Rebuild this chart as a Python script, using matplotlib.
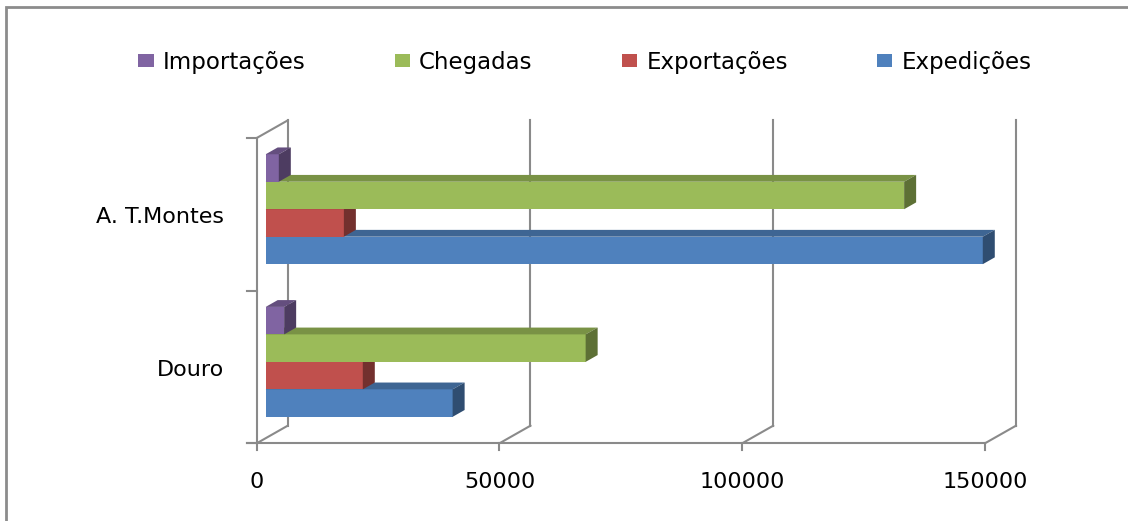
import matplotlib
matplotlib.use('Agg')
from matplotlib import pyplot as plt
from matplotlib.patches import Polygon, Rectangle, Patch
from matplotlib.colors import to_rgb

# dados
categorias = ['Douro', 'A. T.Montes']
series = ['Expedições', 'Exportações', 'Chegadas', 'Importações']
expedicoes = [38500, 147700]
exportacoes = [20000, 16100]
chegadas = [65900, 131500]
importacoes = [3800, 2700]
cores = ['#4F81BD', '#C0504D', '#9BBB59', '#8064A2']
ticks_x = [0, 50000, 100000, 150000]

valores = [expedicoes, exportacoes, chegadas, importacoes]

# escala (pixels por unidade) para imitar o gráfico 3D do Excel
px_x = 0.004855
px_y = 152.65
DX = 31 / px_x          # profundidade total em x
DY = 17.6 / px_y        # profundidade total em y
f_ini = 9 / 31.0        # face da frente das barras
f_prof = 12 / 31.0      # profundidade da barra
alt = 0.18              # altura da barra
cinza = '#8a8a8a'

plt.rcParams['font.family'] = ['DejaVu Sans']

fig = plt.figure(figsize=(11.28, 5.21), dpi=100)
ax = fig.add_axes([0, 0, 1, 1])
ax.set_xlim(-256.7 / px_x, (1128 - 256.7) / px_x)
ax.set_ylim(-0.5 - (521 - 443.3) / px_y, 1.5 + 138 / px_y)
ax.axis('off')


def escurece(cor, k):
    r, g, b = to_rgb(cor)
    return (r * k, g * k, b * k)


# parede do fundo e chão
for v in ticks_x:
    ax.plot([v + DX, v + DX], [-0.5 + DY, 1.5 + DY], color=cinza, lw=1.5, zorder=1)
    ax.plot([v, v + DX], [-0.5, -0.5 + DY], color=cinza, lw=1.5, zorder=1)
    ax.plot([v, v], [-0.5, -0.5 - 7 / px_y], color=cinza, lw=1.5, zorder=1)
    ax.annotate(str(v), xy=(v, -0.5), xytext=(0, -28), textcoords='offset points',
                ha='center', va='center', fontsize=16, color='black')

ax.plot([0, DX], [1.5, 1.5 + DY], color=cinza, lw=1.5, zorder=1)
ax.plot([0, 0], [-0.5, 1.5], color=cinza, lw=1.5, zorder=1)
ax.plot([-10 / px_x, ticks_x[-1]], [-0.5, -0.5], color=cinza, lw=1.5, zorder=1)
for yc in [-0.5, 0.5, 1.5]:
    ax.plot([-10 / px_x, 0], [yc, yc], color=cinza, lw=1.5, zorder=1)

for c, nome in enumerate(categorias):
    ax.annotate(nome, xy=(0, c), xytext=(-23.5, -2), textcoords='offset points',
                ha='right', va='center', fontsize=16, color='black')

# barras 3D
esq = f_ini * DX
dy0 = f_ini * DY
z = 2
for c in range(len(categorias)):
    for i, vals in enumerate(valores):
        w = vals[c]
        yc = c - 0.27 + i * alt + dy0
        base = yc - alt / 2
        topo = yc + alt / 2
        ddx = f_prof * DX
        ddy = f_prof * DY
        cor = cores[i]
        ax.barh(yc, w, left=esq, height=alt, color=cor, zorder=z)
        ax.add_patch(Polygon([(esq, topo), (esq + ddx, topo + ddy),
                              (esq + w + ddx, topo + ddy), (esq + w, topo)],
                             closed=True, facecolor=escurece(cor, 0.78),
                             edgecolor='none', zorder=z))
        ax.add_patch(Polygon([(esq + w, base), (esq + w + ddx, base + ddy),
                              (esq + w + ddx, topo + ddy), (esq + w, topo)],
                             closed=True, facecolor=escurece(cor, 0.6),
                             edgecolor='none', zorder=z))
        z += 1

# legenda
ordem = [3, 2, 1, 0]
handles = [Patch(facecolor=cores[k], edgecolor='none') for k in ordem]
labels = [series[k] for k in ordem]
fig.legend(handles, labels, loc='center', bbox_to_anchor=(585 / 1128, 1 - 62 / 521),
           ncol=4, frameon=False, fontsize=16.5, handlelength=0.66, handleheight=0.52,
           handletextpad=0.4, columnspacing=3.9)

# moldura
fig.patches.append(Rectangle((6 / 1128, -0.2), 1.2, 1.2 - 7 / 521,
                             transform=fig.transFigure, fill=False,
                             edgecolor='#8c8c8c', lw=2))

fig.savefig('out.png', dpi=100)
